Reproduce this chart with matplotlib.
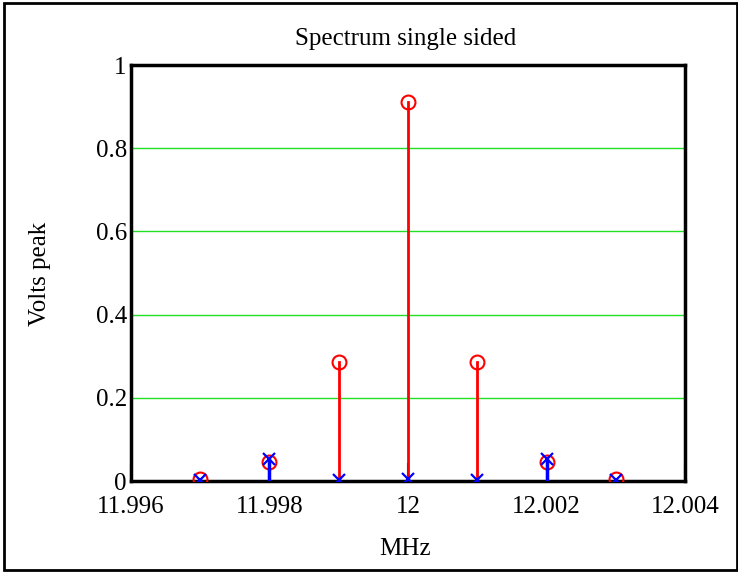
import matplotlib
matplotlib.use("Agg")
import matplotlib.pyplot as plt
from matplotlib.patches import Rectangle

freqs = [11.997, 11.998, 11.999, 12.000, 12.001, 12.002, 12.003]
red_vals = [0.004, 0.045, 0.287, 0.912, 0.287, 0.045, 0.004]
blue_vals = [0.003, 0.054, 0.003, 0.004, 0.003, 0.054, 0.003]
xticks = [11.996, 11.998, 12.000, 12.002, 12.004]
xticklabels = ["11.996", "11.998", "12", "12.002", "12.004"]
yticks = [0, 0.2, 0.4, 0.6, 0.8, 1]
yticklabels = ["0", "0.2", "0.4", "0.6", "0.8", "1"]

plt.rcParams['font.family'] = ['Liberation Serif', 'DejaVu Serif']
fs = 18

fig = plt.figure(figsize=(7.38, 5.72), dpi=100)
ax = fig.add_axes([131/738, (572-481)/572, (685-131)/738, (481-65)/572])

for x, v in zip(freqs, red_vals):
    ax.plot([x, x], [0, v], color='red', lw=2, zorder=2)
ax.plot(freqs, red_vals, 'o', mfc='none', mec='red', ms=10, mew=1.5, zorder=3)
for x, v in zip(freqs, blue_vals):
    ax.plot([x, x], [0, v], color='blue', lw=2.5, zorder=4)
ax.plot(freqs, blue_vals, 'x', color='blue', ms=9, mew=1.6, zorder=5)

ax.set_xlim(11.996, 12.004)
ax.set_ylim(0, 1)
ax.set_xticks(xticks)
ax.set_xticklabels(xticklabels, fontsize=fs)
ax.set_yticks(yticks)
ax.set_yticklabels(yticklabels, fontsize=fs)
ax.tick_params(axis='x', direction='in', length=13, width=1.5, pad=11)
ax.tick_params(axis='y', length=0, pad=3)
ax.set_axisbelow(True)
for y in [0.2, 0.4, 0.6, 0.8]:
    ax.axhline(y, color='#22e022', lw=1, zorder=1)
for s in ax.spines.values():
    s.set_linewidth(2.5)

fig.text(406/738, 1 - 39/572, "Spectrum single sided", ha='center', va='center', fontsize=fs)
fig.text(405/738, 1 - 549/572, "MHz", ha='center', va='center', fontsize=fs)
fig.text(40/738, 1 - 274/572, "Volts peak", ha='center', va='center', rotation=90, fontsize=fs)

fig.patches.append(Rectangle((4/738, 2/572), 733/738, 567/572, transform=fig.transFigure,
                             fill=False, edgecolor='black', lw=2))

fig.savefig("out.png", dpi=100)
